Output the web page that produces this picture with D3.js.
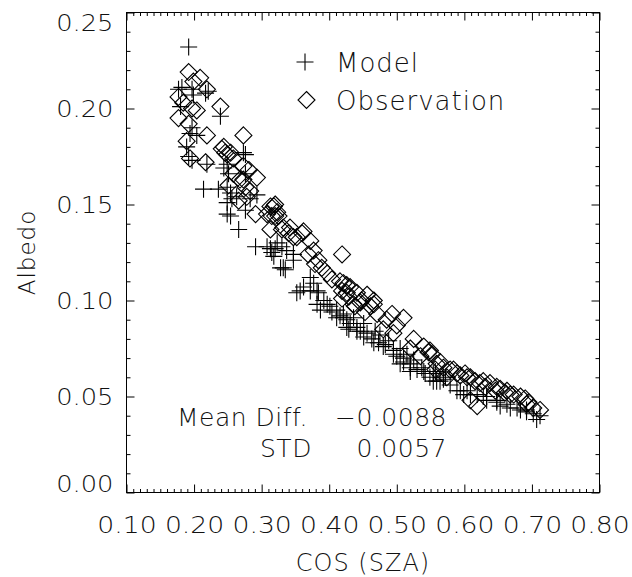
<!DOCTYPE html>
<html>
<head>
<meta charset="utf-8">
<script src="https://cdn.jsdelivr.net/npm/d3@7"></script>
<style>
  html, body { margin: 0; padding: 0; background: #fff; }
  svg { display: block; }
  text { font-family: 'DejaVu Sans', 'Noto Sans', sans-serif; font-weight: 200; fill: #111; }
</style>
</head>
<body>
<script>
// ---- data ----
const xTicks = [0.10, 0.20, 0.30, 0.40, 0.50, 0.60, 0.70, 0.80];
const yTicks = [0.00, 0.05, 0.10, 0.15, 0.20, 0.25];
const xLabel = "COS (SZA)";
const yLabel = "Albedo";
const legendNames = ["Model", "Observation"];
const statNames = ["Mean Diff.", "STD"];
const statValues = ["\u22120.0088", "0.0057"];

// Model: [cos(SZA), albedo]
const model = [
  [0.192,0.232],[0.177,0.210],[0.182,0.211],[0.197,0.210],[0.199,0.207],[0.217,0.208],
  [0.221,0.209],[0.180,0.201],[0.239,0.196],[0.197,0.190],[0.194,0.187],[0.204,0.186],
  [0.189,0.180],[0.192,0.175],[0.197,0.173],[0.219,0.171],[0.276,0.176],[0.273,0.177],
  [0.249,0.171],[0.244,0.169],[0.251,0.166],[0.276,0.166],[0.214,0.158],[0.236,0.158],
  [0.249,0.159],[0.254,0.156],[0.256,0.153],[0.263,0.154],[0.293,0.155],[0.283,0.153],
  [0.249,0.151],[0.276,0.147],[0.249,0.145],[0.254,0.144],[0.266,0.137],[0.291,0.128],
  [0.308,0.128],[0.313,0.127],[0.315,0.125],[0.320,0.127],[0.318,0.123],[0.323,0.130],
  [0.330,0.128],[0.337,0.126],[0.347,0.124],[0.347,0.121],[0.332,0.117],[0.335,0.116],
  [0.328,0.117],[0.352,0.104],[0.357,0.105],[0.362,0.107],[0.372,0.112],[0.377,0.109],
  [0.372,0.105],[0.382,0.105],[0.384,0.104],[0.382,0.098],[0.392,0.100],[0.397,0.098],
  [0.387,0.095],[0.401,0.097],[0.404,0.094],[0.411,0.095],[0.411,0.091],[0.416,0.092],
  [0.421,0.091],[0.421,0.093],[0.426,0.090],[0.431,0.088],[0.436,0.091],[0.429,0.085],
  [0.426,0.086],[0.441,0.086],[0.441,0.084],[0.446,0.084],[0.451,0.088],[0.451,0.081],
  [0.456,0.083],[0.463,0.080],[0.468,0.084],[0.466,0.078],[0.473,0.078],[0.475,0.082],
  [0.483,0.077],[0.480,0.076],[0.488,0.079],[0.495,0.074],[0.495,0.072],[0.500,0.071],
  [0.505,0.075],[0.510,0.070],[0.510,0.068],[0.515,0.072],[0.505,0.067],[0.520,0.067],
  [0.520,0.065],[0.525,0.069],[0.520,0.063],[0.530,0.064],[0.537,0.065],[0.540,0.063],
  [0.542,0.062],[0.549,0.060],[0.554,0.062],[0.554,0.058],[0.557,0.063],[0.559,0.058],
  [0.564,0.058],[0.569,0.059],[0.572,0.060],[0.579,0.056],[0.589,0.053],[0.594,0.053],
  [0.599,0.051],[0.604,0.053],[0.609,0.051],[0.619,0.051],[0.628,0.050],[0.633,0.050],
  [0.633,0.048],[0.648,0.048],[0.648,0.047],[0.653,0.045],[0.663,0.046],[0.668,0.044],
  [0.678,0.044],[0.683,0.043],[0.692,0.043],[0.692,0.042],[0.702,0.041],[0.707,0.038],
  [0.712,0.040]
];

// Observation: [cos(SZA), albedo]
const observation = [
  [0.192,0.219],[0.209,0.216],[0.199,0.214],[0.219,0.210],[0.177,0.206],[0.184,0.203],
  [0.204,0.199],[0.197,0.200],[0.239,0.201],[0.177,0.195],[0.192,0.192],[0.219,0.186],
  [0.273,0.186],[0.189,0.183],[0.241,0.179],[0.244,0.180],[0.246,0.177],[0.249,0.176],
  [0.254,0.177],[0.258,0.174],[0.194,0.174],[0.217,0.172],[0.273,0.170],[0.281,0.168],
  [0.258,0.166],[0.293,0.164],[0.273,0.163],[0.268,0.163],[0.251,0.160],[0.276,0.159],
  [0.283,0.157],[0.278,0.154],[0.266,0.152],[0.291,0.145],[0.313,0.149],[0.318,0.149],
  [0.320,0.150],[0.308,0.145],[0.323,0.146],[0.315,0.144],[0.320,0.144],[0.325,0.144],
  [0.313,0.137],[0.332,0.138],[0.342,0.138],[0.330,0.137],[0.340,0.135],[0.347,0.133],
  [0.352,0.133],[0.360,0.135],[0.362,0.136],[0.372,0.131],[0.377,0.126],[0.369,0.124],
  [0.419,0.124],[0.384,0.121],[0.379,0.119],[0.389,0.117],[0.397,0.114],[0.404,0.111],
  [0.416,0.110],[0.421,0.109],[0.426,0.108],[0.431,0.107],[0.419,0.105],[0.426,0.104],
  [0.429,0.102],[0.419,0.101],[0.441,0.104],[0.456,0.103],[0.448,0.100],[0.436,0.098],
  [0.446,0.099],[0.466,0.100],[0.461,0.097],[0.466,0.098],[0.438,0.097],[0.453,0.094],
  [0.471,0.093],[0.493,0.093],[0.510,0.091],[0.485,0.090],[0.500,0.087],[0.480,0.085],
  [0.495,0.083],[0.525,0.080],[0.540,0.076],[0.520,0.075],[0.547,0.073],[0.549,0.074],
  [0.535,0.071],[0.552,0.072],[0.564,0.068],[0.559,0.067],[0.569,0.065],[0.579,0.064],
  [0.557,0.064],[0.584,0.064],[0.589,0.062],[0.574,0.060],[0.594,0.061],[0.601,0.062],
  [0.604,0.060],[0.609,0.060],[0.616,0.058],[0.628,0.058],[0.623,0.057],[0.638,0.057],
  [0.631,0.055],[0.648,0.055],[0.646,0.053],[0.653,0.054],[0.663,0.053],[0.660,0.052],
  [0.668,0.051],[0.673,0.051],[0.683,0.050],[0.690,0.049],[0.695,0.047],[0.692,0.046],
  [0.702,0.044],[0.712,0.043],[0.619,0.045],[0.609,0.048]
];

// ---- drawing ----
const W = 632, H = 577;
const svg = d3.select("body").append("svg").attr("width", W).attr("height", H);

const x = d3.scaleLinear().domain([0.1, 0.8]).range([126.5, 599.5]);
const y = d3.scaleLinear().domain([0, 0.25]).range([492.5, 12.5]);

const xMinor = d3.range(0, 71).map(i => +(0.10 + i * 0.01).toFixed(2)).filter(v => !xTicks.some(t => Math.abs(t - v) < 1e-9));
const yMinor = d3.range(0, 26).map(i => +(i * 0.01).toFixed(2)).filter(v => !yTicks.some(t => Math.abs(t - v) < 1e-9));

function styleAxis(g) {
  g.select(".domain").remove();
  g.selectAll(".tick line").attr("stroke", "#000").attr("stroke-width", 1);
}

// bottom axis (major with labels)
const gB = svg.append("g").attr("transform", `translate(0,${y(0)})`)
  .call(d3.axisBottom(x).tickValues(xTicks).tickSize(-8).tickPadding(0).tickFormat(d3.format(".2f")));
styleAxis(gB);
gB.selectAll(".tick text").attr("font-size", 23).attr("fill", "#111")
  .attr("dy", null).attr("y", 0).attr("transform", "translate(0,40) scale(1.16,1)");
svg.append("g").attr("transform", `translate(0,${y(0)})`)
  .call(d3.axisBottom(x).tickValues(xMinor).tickSize(-3.5).tickFormat(""))
  .call(styleAxis);

// top axis
svg.append("g").attr("transform", `translate(0,${y(0.25)})`)
  .call(d3.axisTop(x).tickValues(xTicks).tickSize(-8).tickFormat(""))
  .call(styleAxis);
svg.append("g").attr("transform", `translate(0,${y(0.25)})`)
  .call(d3.axisTop(x).tickValues(xMinor).tickSize(-3.5).tickFormat(""))
  .call(styleAxis);

// left axis (labels)
const gL = svg.append("g").attr("transform", `translate(${x(0.1)},0)`)
  .call(d3.axisLeft(y).tickValues(yTicks).tickSize(-8).tickPadding(12).tickFormat(d3.format(".2f")));
styleAxis(gL);
gL.selectAll(".tick text").attr("font-size", 23).attr("fill", "#111").attr("dy", "0.36em")
  .attr("x", 0).attr("y", 0)
  .attr("transform", d => `translate(-13,${d === 0.25 ? 10 : (d === 0 ? -9 : 0)}) scale(1.12,1)`);
svg.append("g").attr("transform", `translate(${x(0.1)},0)`)
  .call(d3.axisLeft(y).tickValues(yMinor).tickSize(-4).tickFormat(""))
  .call(styleAxis);

// right axis
svg.append("g").attr("transform", `translate(${x(0.8)},0)`)
  .call(d3.axisRight(y).tickValues(yTicks).tickSize(-8).tickFormat(""))
  .call(styleAxis);
svg.append("g").attr("transform", `translate(${x(0.8)},0)`)
  .call(d3.axisRight(y).tickValues(yMinor).tickSize(-4).tickFormat(""))
  .call(styleAxis);

// frame
svg.append("rect")
  .attr("x", x(0.1)).attr("y", y(0.25))
  .attr("width", x(0.8) - x(0.1)).attr("height", y(0) - y(0.25))
  .attr("fill", "none").attr("stroke", "#000").attr("stroke-width", 1);

// axis titles
svg.append("text").attr("x", (x(0.1) + x(0.8)) / 2).attr("y", 571)
  .attr("text-anchor", "middle").attr("font-size", 24).style("letter-spacing", "1px").text(xLabel);
svg.append("text").attr("transform", `translate(35,${(y(0) + y(0.25)) / 2}) rotate(-90)`)
  .attr("text-anchor", "middle").attr("font-size", 23).style("letter-spacing", "1px").text(yLabel);

// markers
const R = 8.5;
const plusPath = `M${-R},0H${R}M0,${-R}V${R}`;
const diamondPath = `M0,${-R}L${R},0L0,${R}L${-R},0Z`;

svg.append("g").selectAll("path.model").data(model).join("path")
  .attr("class", "model")
  .attr("transform", d => `translate(${x(d[0])},${y(d[1])})`)
  .attr("d", plusPath).attr("fill", "none").attr("stroke", "#000").attr("stroke-width", 1.1);

svg.append("g").selectAll("path.obs").data(observation).join("path")
  .attr("class", "obs")
  .attr("transform", d => `translate(${x(d[0])},${y(d[1])})`)
  .attr("d", diamondPath).attr("fill", "none").attr("stroke", "#000").attr("stroke-width", 1.1);

// legend
const legend = svg.append("g");
legend.append("path").attr("transform", "translate(305,62)").attr("d", plusPath)
  .attr("fill", "none").attr("stroke", "#000").attr("stroke-width", 1.1);
legend.append("path").attr("transform", "translate(306.5,100)").attr("d", diamondPath)
  .attr("fill", "none").attr("stroke", "#000").attr("stroke-width", 1.1);
legend.selectAll("text").data(legendNames).join("text")
  .attr("x", 336).attr("y", (d, i) => 62 + i * 38 + 9.5)
  .attr("font-size", 26).style("letter-spacing", "1px").text(d => d);

// statistics text
const statY = [417, 448];
svg.append("g").selectAll("text.sn").data(statNames).join("text")
  .attr("class", "sn")
  .attr("x", (d, i) => i === 0 ? 177 : 260).attr("y", (d, i) => statY[i] + 9)
  .attr("font-size", 25).style("letter-spacing", "0.5px").text(d => d);
svg.append("g").selectAll("text.sv").data(statValues).join("text")
  .attr("class", "sv")
  .attr("x", 447).attr("y", (d, i) => statY[i] + 9).attr("text-anchor", "end")
  .attr("font-size", 25).style("letter-spacing", "0.5px").text(d => d);
</script>
</body>
</html>
